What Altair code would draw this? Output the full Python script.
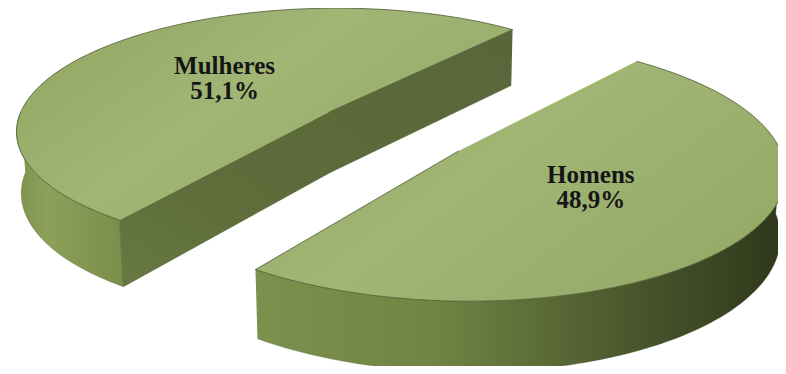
import altair as alt
import pandas as pd
import math

# ---- data ----
categories = ["Mulheres", "Homens"]
values = [51.1, 48.9]
pct_labels = ["51,1%", "48,9%"]

df = pd.DataFrame({"cat": categories, "value": values, "pct": pct_labels,
                   "k": list(range(len(categories)))})

# ---- 3D view constants (perspective exploded pie) ----
CX, CY = 392.4, 131.1      # projected centre (page px)
R = 315.1                  # pie radius
PHI = 0.402                # elevation angle (rad)
D = 2085.8                 # camera distance
E = 81.6                   # explode distance
START = 50.5               # first slice start angle (deg, CCW)
DEPTH = 67.9               # slab thickness
CP, SP = math.cos(PHI), math.sin(PHI)
N = 90

X = alt.X("x:Q", scale=alt.Scale(domain=[8, 778], nice=False, zero=False), axis=None)
Y = alt.Y("y:Q", scale=alt.Scale(domain=[8, 366], nice=False, zero=False, reverse=True), axis=None)


def gstops(*pairs):
    return [alt.GradientStop(offset=o, color=c) for o, c in pairs]


grad_top = alt.Gradient(gradient="linear", x1=0, y1=0, x2=1, y2=0.6,
                        stops=gstops((0, "#8fa45f"), (0.5, "#a1b675"), (1, "#96ab68")))
grad_wall_m = alt.Gradient(gradient="linear", x1=0, y1=0, x2=1, y2=0,
                           stops=gstops((0, "#7f944f"), (0.3, "#8ca05a"), (1, "#7a8e4b")))
grad_wall_h = alt.Gradient(gradient="linear", x1=0, y1=0, x2=1, y2=0,
                           stops=gstops((0, "#7c914d"), (0.35, "#6f8343"), (0.75, "#46522a"), (1, "#2e371a")))
grad_face = alt.Gradient(gradient="linear", x1=0, y1=1, x2=1, y2=0,
                         stops=gstops((0, "#677941"), (0.3, "#5e6d3a"), (1, "#58663a")))

base = (
    alt.Chart(df)
    .transform_joinaggregate(total="sum(value)")
    .transform_window(cum="sum(value)", sort=[alt.SortField("k")])
    .transform_calculate(a0=f"{START} + 360*(datum.cum - datum.value)/datum.total")
    .transform_calculate(a1=f"{START} + 360*datum.cum/datum.total")
    .transform_calculate(mid="(datum.a0 + datum.a1)/2")
    .transform_calculate(uc=f"{E}*cos(datum.mid*PI/180)")
    .transform_calculate(vc=f"{E}*sin(datum.mid*PI/180)")
)


def project(chart, u_expr, v_expr, h_expr):
    return (
        chart.transform_calculate(pu=u_expr)
        .transform_calculate(pv=v_expr)
        .transform_calculate(ph=h_expr)
        .transform_calculate(pz=f"{D} + datum.pv*{CP} - datum.ph*{SP}")
        .transform_calculate(x=f"{CX} + datum.pu*{D}/datum.pz")
        .transform_calculate(y=f"{CY} - {D}*(datum.pv*{SP} + datum.ph*{CP})/datum.pz")
    )


# top faces
top = project(
    base.transform_calculate(idx=f"sequence(0, {N + 2})")
    .transform_flatten(["idx"])
    .transform_calculate(ang=f"datum.a0 + (datum.a1 - datum.a0)*(datum.idx-1)/{N}"),
    f"datum.idx == 0 ? datum.uc : datum.uc + {R}*cos(datum.ang*PI/180)",
    f"datum.idx == 0 ? datum.vc : datum.vc + {R}*sin(datum.ang*PI/180)",
    "0",
).mark_line(fill=grad_top, stroke="#4f5b33", strokeWidth=1, strokeOpacity=0.8).encode(
    x=X, y=Y, detail="cat:N", order="idx:Q")


# outer curved walls (front half only)
def wall(cat, grad):
    ch = (
        base.transform_filter(f"datum.cat == '{cat}'")
        .transform_calculate(w0="max(datum.a0, 180)")
        .transform_calculate(w1="min(datum.a1, 360)")
        .transform_filter("datum.w1 > datum.w0")
        .transform_calculate(idx=f"sequence(0, {2 * N + 2})")
        .transform_flatten(["idx"])
        .transform_calculate(t=f"datum.idx <= {N} ? datum.idx/{N} : ({2 * N + 1} - datum.idx)/{N}")
        .transform_calculate(ang="datum.w0 + (datum.w1 - datum.w0)*datum.t")
    )
    return project(
        ch,
        f"datum.uc + {R}*cos(datum.ang*PI/180)",
        f"datum.vc + {R}*sin(datum.ang*PI/180)",
        f"datum.idx <= {N} ? 0 : -{DEPTH}",
    ).mark_line(fill=grad, stroke="#48542c", strokeWidth=0.6, strokeOpacity=0.5).encode(
        x=X, y=Y, detail="cat:N", order="idx:Q")


# flat cut face facing the viewer (start rim, apex, end rim, then the same at the bottom)
face_src = (
    base.transform_filter("sin((datum.a0 - 90)*PI/180) < 0 && sin((datum.a1 + 90)*PI/180) < 0")
    .transform_calculate(idx="sequence(0, 6)")
    .transform_flatten(["idx"])
    .transform_calculate(j="datum.idx < 3 ? datum.idx : 5 - datum.idx")
    .transform_calculate(fa="datum.j == 0 ? datum.a0 : datum.a1")
    .transform_calculate(rr=f"datum.j == 1 ? 0 : {R}")
)
face = project(
    face_src,
    "datum.uc + datum.rr*cos(datum.fa*PI/180)",
    "datum.vc + datum.rr*sin(datum.fa*PI/180)",
    f"datum.idx < 3 ? 0 : -{DEPTH}",
).mark_line(fill=grad_face, stroke="#56643a", strokeWidth=0.5).encode(
    x=X, y=Y, detail="cat:N", order="idx:Q")

labels = project(
    base.transform_calculate(lbl="datum.cat + '|' + datum.pct"),
    f"datum.uc + 0.47*{R}*cos(datum.mid*PI/180) + 4",
    f"datum.vc + 0.47*{R}*sin(datum.mid*PI/180)",
    "0",
).transform_calculate(yl="datum.y - 14").mark_text(
    font="Liberation Serif", fontWeight="bold", fontSize=25, lineBreak="|",
    lineHeight=25, color="#151515", baseline="middle", align="center").encode(
    x=X, y=alt.Y("yl:Q", scale=alt.Scale(domain=[8, 366], nice=False, zero=False, reverse=True), axis=None),
    text="lbl:N")

chart = (
    alt.layer(wall("Mulheres", grad_wall_m), wall("Homens", grad_wall_h), face, top, labels)
    .properties(width=770, height=358, padding=0, autosize="none", background="white")
    .configure_view(stroke=None)
)

chart.save("out.html", embed_options={"renderer": "svg", "actions": False})
